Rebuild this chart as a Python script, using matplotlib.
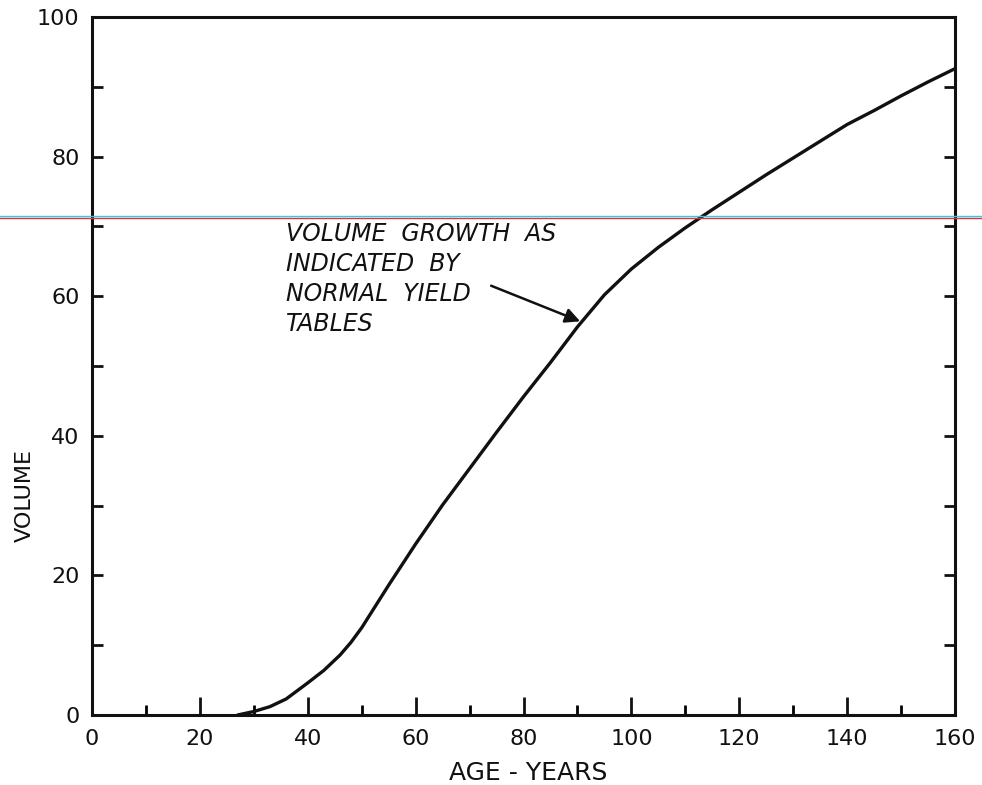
import matplotlib.pyplot as plt
from matplotlib.lines import Line2D

# dados (idade em anos, volume)
idade = [27, 30, 33, 36, 40, 43, 46, 48, 50, 55, 60, 65, 70, 75, 80, 85, 90,
         95, 100, 105, 110, 115, 120, 125, 130, 135, 140, 145, 150, 155, 160]
volume = [0.0, 0.5, 1.2, 2.3, 4.6, 6.4, 8.6, 10.4, 12.5, 18.6, 24.5, 30.1, 35.3,
          40.5, 45.6, 50.5, 55.6, 60.2, 63.9, 67.0, 69.8, 72.4, 74.9, 77.4,
          79.8, 82.2, 84.6, 86.6, 88.7, 90.7, 92.6]

xticks_maiores = [0, 20, 40, 60, 80, 100, 120, 140, 160]
xticks_menores = [10, 30, 50, 70, 90, 110, 130, 150]
yticks_maiores = [0, 20, 40, 60, 80, 100]
yticks_menores = [10, 30, 50, 70, 90]

texto_nota = "VOLUME  GROWTH  AS\nINDICATED  BY\nNORMAL  YIELD\nTABLES"

plt.rcParams['font.family'] = 'DejaVu Sans'
fig = plt.figure(figsize=(9.82, 7.85), dpi=100)
ax = fig.add_axes([92 / 982, 70 / 785, 863 / 982, 698 / 785])

ax.plot(idade, volume, color='#111111', linewidth=2.4, solid_capstyle='round',
        solid_joinstyle='round')

ax.set_xlim(0, 160)
ax.set_ylim(0, 100)

for lado in ax.spines.values():
    lado.set_linewidth(2.2)
    lado.set_color('#111111')

ax.set_xticks(xticks_maiores)
ax.set_xticks(xticks_menores, minor=True)
ax.set_yticks(yticks_maiores)
ax.set_yticks(yticks_menores, minor=True)
ax.set_xticklabels([str(v) for v in xticks_maiores])
ax.set_yticklabels([str(v) for v in yticks_maiores])

ax.tick_params(axis='x', which='major', direction='in', length=13, width=2,
               labelsize=16, pad=10, colors='#111111')
ax.tick_params(axis='x', which='minor', direction='in', length=7, width=2)
ax.tick_params(axis='y', which='both', direction='in', length=8, width=2,
               labelsize=16, pad=9, right=True, colors='#111111')

ax.set_xlabel('AGE - YEARS', fontsize=18, color='#111111')
ax.xaxis.set_label_coords(0.506, -0.066)
ax.set_ylabel('VOLUME', fontsize=16, color='#111111')
ax.yaxis.set_label_coords(-0.066, 0.315)

# seta da anotação
ax.annotate('', xy=(90.5, 56.4), xytext=(74.0, 61.5),
            arrowprops=dict(arrowstyle='-|>', color='#111111', lw=1.8,
                            mutation_scale=22, shrinkA=0, shrinkB=0))
ax.text(36.0, 70.6, texto_nota, fontsize=17, style='italic', ha='left',
        va='top', linespacing=1.32, color='#111111')

# linha colorida do escaneamento
fig.add_artist(Line2D([0, 1], [(785 - 216) / 785] * 2, color='#33ccdd', lw=1.0))
fig.add_artist(Line2D([0, 1], [(785 - 218) / 785] * 2, color='#dd3344', lw=1.0))

plt.savefig('out.png', dpi=100)
